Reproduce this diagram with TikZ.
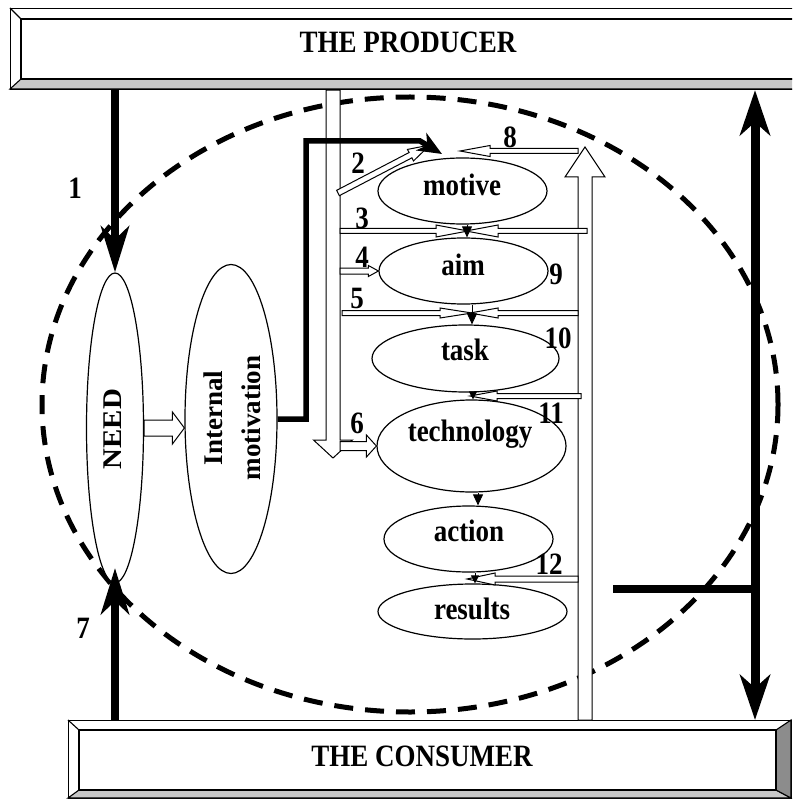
\documentclass[tikz,border=0pt]{standalone}
\usepackage{fontspec}
\setmainfont{Liberation Serif}
\usepackage{graphicx}
\usetikzlibrary{shapes.geometric,arrows.meta}
\definecolor{bevlight}{HTML}{C8C8C8}
\definecolor{bevdark}{HTML}{8C8C8C}
\newcommand{\tallt}[1]{\scalebox{1}[1.15]{#1}}
\newcommand{\blockarrow}[5]{%
  \path (#1); \pgfgetlastxy{\BAxa}{\BAya}%
  \path (#2); \pgfgetlastxy{\BAxb}{\BAyb}%
  \pgfmathsetmacro{\BAang}{atan2(\BAyb-\BAya,\BAxb-\BAxa)}%
  \pgfmathsetmacro{\BAlen}{veclen(\BAxb-\BAxa,\BAyb-\BAya)}%
  \pgfmathsetmacro{\BAbase}{\BAlen-#5}%
  \begin{scope}[shift={(\BAxa,\BAya)},rotate=\BAang]
    \draw[hollow] (0pt,-#3pt) -- (\BAbase pt,-#3pt) -- (\BAbase pt,-#4pt) -- (\BAlen pt,0pt) -- (\BAbase pt,#4pt) -- (\BAbase pt,#3pt) -- (0pt,#3pt) -- cycle;
  \end{scope}}
\tikzset{
  bigfont/.style={font=\fontsize{27}{31}\selectfont\bfseries},
  oval/.style={draw, ellipse, line width=1.2pt, fill=white, inner sep=0pt},
  txt/.style={bigfont, inner sep=0pt, anchor=base},
  rtxt/.style={bigfont, inner sep=0pt, rotate=90, align=center},
  hollow/.style={draw, fill=white, line width=1pt, line join=miter},
  boxline/.style={line width=1.1pt},
  heavy/.style={line width=8pt},
  bigtip/.style={-{Stealth[length=46pt,width=28pt,inset=13pt]}},
  smalltip/.style={line width=0.9pt, -{Triangle[length=11pt,width=10pt]}},
  tinytip/.style={line width=0.9pt, -{Triangle[length=8pt,width=8pt]}},
  ring/.style={draw, ellipse, line width=5pt, dash pattern=on 19pt off 12pt, inner sep=0pt},
}
\begin{document}
\begin{tikzpicture}[x=1pt,y=-1pt]
\useasboundingbox (0,0) rectangle (792,799);
\clip (0,0) rectangle (792,799);

% dashed field
\node[ring, minimum width=736pt, minimum height=615pt] (field) at (410,404.5) {};

% producer box
\node[draw, boxline, fill=white, minimum width=790pt, minimum height=81pt, anchor=north west, inner sep=0pt] (producer) at (10,8) {};
\filldraw[boxline, fill=bevlight] (10,89) -- (21,79) -- (795,79) -- (800,89) -- cycle;
\draw[boxline] (21,19) rectangle (795,79);
\draw[boxline] (10,8) -- (21,19);
\node[txt] (ptext) at (408,53) {\tallt{THE PRODUCER}};

% consumer box
\node[draw, boxline, fill=white, minimum width=723pt, minimum height=78pt, anchor=north west, inner sep=0pt] (consumer) at (68,720) {};
\filldraw[boxline, fill=bevlight] (68,798) -- (79,790) -- (776,790) -- (791,798) -- cycle;
\filldraw[boxline, fill=bevdark] (776,730) -- (791,720) -- (791,798) -- (776,790) -- cycle;
\draw[boxline] (79,730) rectangle (776,790);
\draw[boxline] (68,720) -- (79,730);
\node[txt] (ctext) at (422,766) {\tallt{THE CONSUMER}};

% helper coordinates
\coordinate (lsx) at (333,0);
\coordinate (lsr) at (340,0);
\coordinate (rsx) at (585,0);
\coordinate (rv) at (755,0);

% vertical hollow strips
\blockarrow{producer.south -| lsx}{333,458}{7}{19.5}{18}
\blockarrow{consumer.north -| rsx}{585,147}{7}{20}{30}

% ellipses
\node[oval, minimum width=57pt, minimum height=310pt] (need) at (115,428) {};
\node[oval, minimum width=92pt, minimum height=309pt] (im) at (231,419) {};
\node[oval, minimum width=169pt, minimum height=66pt] (motive) at (462.5,191) {};
\node[oval, minimum width=169pt, minimum height=66pt] (aim) at (463.5,271) {};
\node[oval, minimum width=187pt, minimum height=67pt] (task) at (465.5,358.5) {};
\node[oval, minimum width=189pt, minimum height=92pt] (tech) at (471.5,446) {};
\node[oval, minimum width=169pt, minimum height=66pt] (action) at (468.5,539) {};
\node[oval, minimum width=189pt, minimum height=55pt] (results) at (472.5,611.5) {};

\node[rtxt] (needtext) at (113,429) {\scalebox{1.07}[1]{NEED}};
\node[rtxt] (imtext) at (232,418) {Internal\\[7pt]motivation};
\node[txt] (motivetext) at (462,196) {\tallt{motive}};
\node[txt] (aimtext) at (463,276) {\tallt{aim}};
\node[txt] (tasktext) at (465,360) {\tallt{task}};
\node[txt] (techtext) at (470,441) {\tallt{technology}};
\node[txt] (actiontext) at (469,541) {\tallt{action}};
\node[txt] (resultstext) at (472,619) {\tallt{results}};

% hollow arrows
\blockarrow{need.east}{need.east -| im.west}{8}{16}{12}
\blockarrow{338,193}{430,145}{3}{6.5}{22}
\blockarrow{578,151}{460,151}{2.5}{5.5}{30}
\blockarrow{340,231}{468,231}{2.5}{6}{32}
\blockarrow{587,231}{466,231}{2.5}{6}{32}
\blockarrow{aim.west -| lsr}{aim.west}{3}{5.5}{10}
\blockarrow{342,313}{472,313}{2.5}{5}{32}
\blockarrow{578,313}{470,313}{2.5}{5}{28}
\blockarrow{tech.west -| lsr}{tech.west}{4.5}{11}{10}
\blockarrow{581,396}{470,396}{2.5}{5}{27}
\blockarrow{578,579}{467,579}{3}{6}{28}

% small black arrows between ovals
\coordinate (c3) at (467,0);
\coordinate (c5) at (472,0);
\coordinate (c11) at (473,0);
\coordinate (c6) at (478,0);
\coordinate (c12) at (475,0);
\draw[smalltip] (motive.south -| c3) -- (aim.north -| c3);
\draw[smalltip] (aim.south -| c5) -- (task.north -| c5);
\draw[tinytip] (task.south -| c11) -- (tech.north -| c11);
\draw[smalltip] (tech.south -| c6) -- (action.north -| c6);
\draw[tinytip] (action.south -| c12) -- (results.north -| c12);

% heavy arrows
\draw[heavy, bigtip] (producer.south -| need.north) -- (need.north);
\coordinate (n7) at (115,568);
\draw[heavy, bigtip] (consumer.north -| need.south) -- (n7);
\draw[line width=9pt, {Stealth[length=45pt,width=30pt,inset=13pt]}-{Stealth[length=45pt,width=30pt,inset=13pt]}] (producer.south -| rv) -- (consumer.north -| rv);
\coordinate (hl) at (613,589);
\draw[heavy] (hl) -- (hl -| rv);
\coordinate (imk) at (306,141);
\coordinate (imb) at (420,141);
\coordinate (imt) at (442,154);
\draw[line width=5.5pt, line join=miter, -{Stealth[length=24pt,width=20pt,inset=7pt]}] (im.east) -| (imk) -- (imb) -- (imt);

% number labels
\node[txt] (l1) at (75,199) {\tallt{1}};
\node[txt] (l2) at (358,174) {\tallt{2}};
\node[txt] (l3) at (362,229) {\tallt{3}};
\node[txt] (l4) at (362,268) {\tallt{4}};
\node[txt] (l5) at (357,308) {\tallt{5}};
\node[txt] (l6) at (357,433) {\tallt{6}};
\node[txt] (l7) at (83,638) {\tallt{7}};
\node[txt] (l8) at (510,148) {\tallt{8}};
\node[txt] (l9) at (556,284) {\tallt{9}};
\node[txt] (l10) at (558,348) {\tallt{10}};
\node[txt] (l11) at (551,423) {\tallt{11}};
\node[txt] (l12) at (549,574) {\tallt{12}};
\end{tikzpicture}
\end{document}
